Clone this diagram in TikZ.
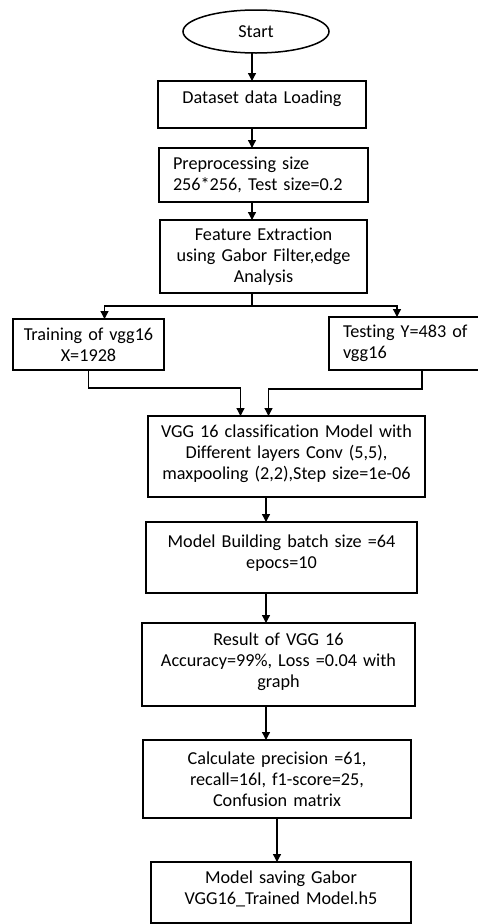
\documentclass[tikz,border=0pt]{standalone}
\usepackage{fontspec}
\setmainfont{Carlito}[Ligatures=NoCommon]
\usetikzlibrary{arrows.meta,positioning,shapes.geometric}
\tikzset{
  procbox/.style = {rectangle, draw=black, line width=1.8pt, fill=white, align=center, outer sep=0pt,
                    inner xsep=4pt, inner ysep=3pt, font=\fontsize{18.2}{21}\selectfont},
  termnode/.style = {ellipse, draw=black, line width=1.5pt, minimum width=146pt, outer sep=0pt,
                     minimum height=43pt, inner sep=0pt, font=\fontsize{18.2}{21}\selectfont},
  lift/.style    = {execute at end node={\par\vspace*{#1}}},
  flow/.style    = {-{Triangle[length=8pt,width=8pt]}, line width=1.3pt, draw=black},
  link/.style    = {line width=1.3pt, draw=black}
}
\begin{document}
\begin{tikzpicture}
    \useasboundingbox (0,0) rectangle (477pt,-924pt);
    \coordinate (spine) at (252pt,0);
    \coordinate (spineb) at (266pt,0);
    % main column
    \node[termnode] (start) at (256pt,-31.5pt) {Start};
    \node[procbox, text width=200pt, minimum height=47pt, lift=12pt, below=28pt of start, xshift=6pt] (data) {Dataset data Loading};
    \node[procbox, align=left, text width=181pt, inner xsep=14pt, minimum height=54pt, below=20pt of data, xshift=1.5pt] (pre) {Preprocessing size\\256*256, Test size=0.2};
    \node[procbox, text width=199pt, minimum height=73pt, below=18pt of pre] (feat) {Feature Extraction\\using Gabor Filter,edge\\Analysis};
    % split into the two sets
    \node[procbox, text width=143pt, minimum height=51pt, below=26pt of feat, xshift=-175pt] (train) {Training of vgg16\\X=1928};
    \node[procbox, align=left, text width=128pt, inner xsep=14pt, minimum height=53pt, below=24pt of feat, xshift=143.5pt] (test) {Testing Y=483 of\\vgg16};
    \node[procbox, text width=269pt, minimum height=81pt, lift=6pt, below=123pt of feat, xshift=23pt] (vgg) {VGG 16 classification Model with\\Different layers Conv (5,5),\\maxpooling (2,2),Step size=1e-06};
    \node[procbox, text width=263pt, minimum height=71pt, lift=9pt, below=25pt of vgg, xshift=-5pt] (build) {Model Building batch size =64\\epocs=10};
    \node[procbox, text width=265pt, minimum height=83pt, lift=6pt, below=30pt of build, xshift=-3pt] (result) {Result of VGG 16\\Accuracy=99\%, Loss =0.04 with\\graph};
    \node[procbox, text width=260pt, minimum height=78pt, below=34pt of result, xshift=-1.5pt] (calc) {Calculate precision =61,\\recall=16l, f1-score=25,\\Confusion matrix};
    \node[procbox, text width=252pt, minimum height=61pt, lift=8pt, below=44pt of calc, xshift=4pt] (save) {Model saving Gabor\\VGG16\_Trained Model.h5};
    % connectors
    \draw[flow] (start.south -| spine) -- (data.north -| spine);
    \draw[flow] (data.south -| spine) -- (pre.north -| spine);
    \draw[flow] (pre.south -| spine) -- (feat.north -| spine);
    \draw[link] (feat.south -| spine) -- ++(0,-13pt) coordinate (fork);
    \draw[flow] (fork) -| ([xshift=16pt]train.north);
    \draw[flow] (fork) -| ([xshift=-10pt]test.north);
    \draw[flow] (train.south) -- ++(0,-18pt) -| ([xshift=-46pt]vgg.north);
    \draw[flow] ([xshift=15pt]test.south) -- ++(0,-19pt) -| ([xshift=-18pt]vgg.north);
    \draw[flow] (vgg.south -| spineb) -- (build.north -| spineb);
    \draw[flow] (build.south -| spineb) -- (result.north -| spineb);
    \draw[flow] (result.south -| spineb) -- (calc.north -| spineb);
    \draw[flow] (calc.south) -- (calc.south |- save.north);
\end{tikzpicture}
\end{document}
